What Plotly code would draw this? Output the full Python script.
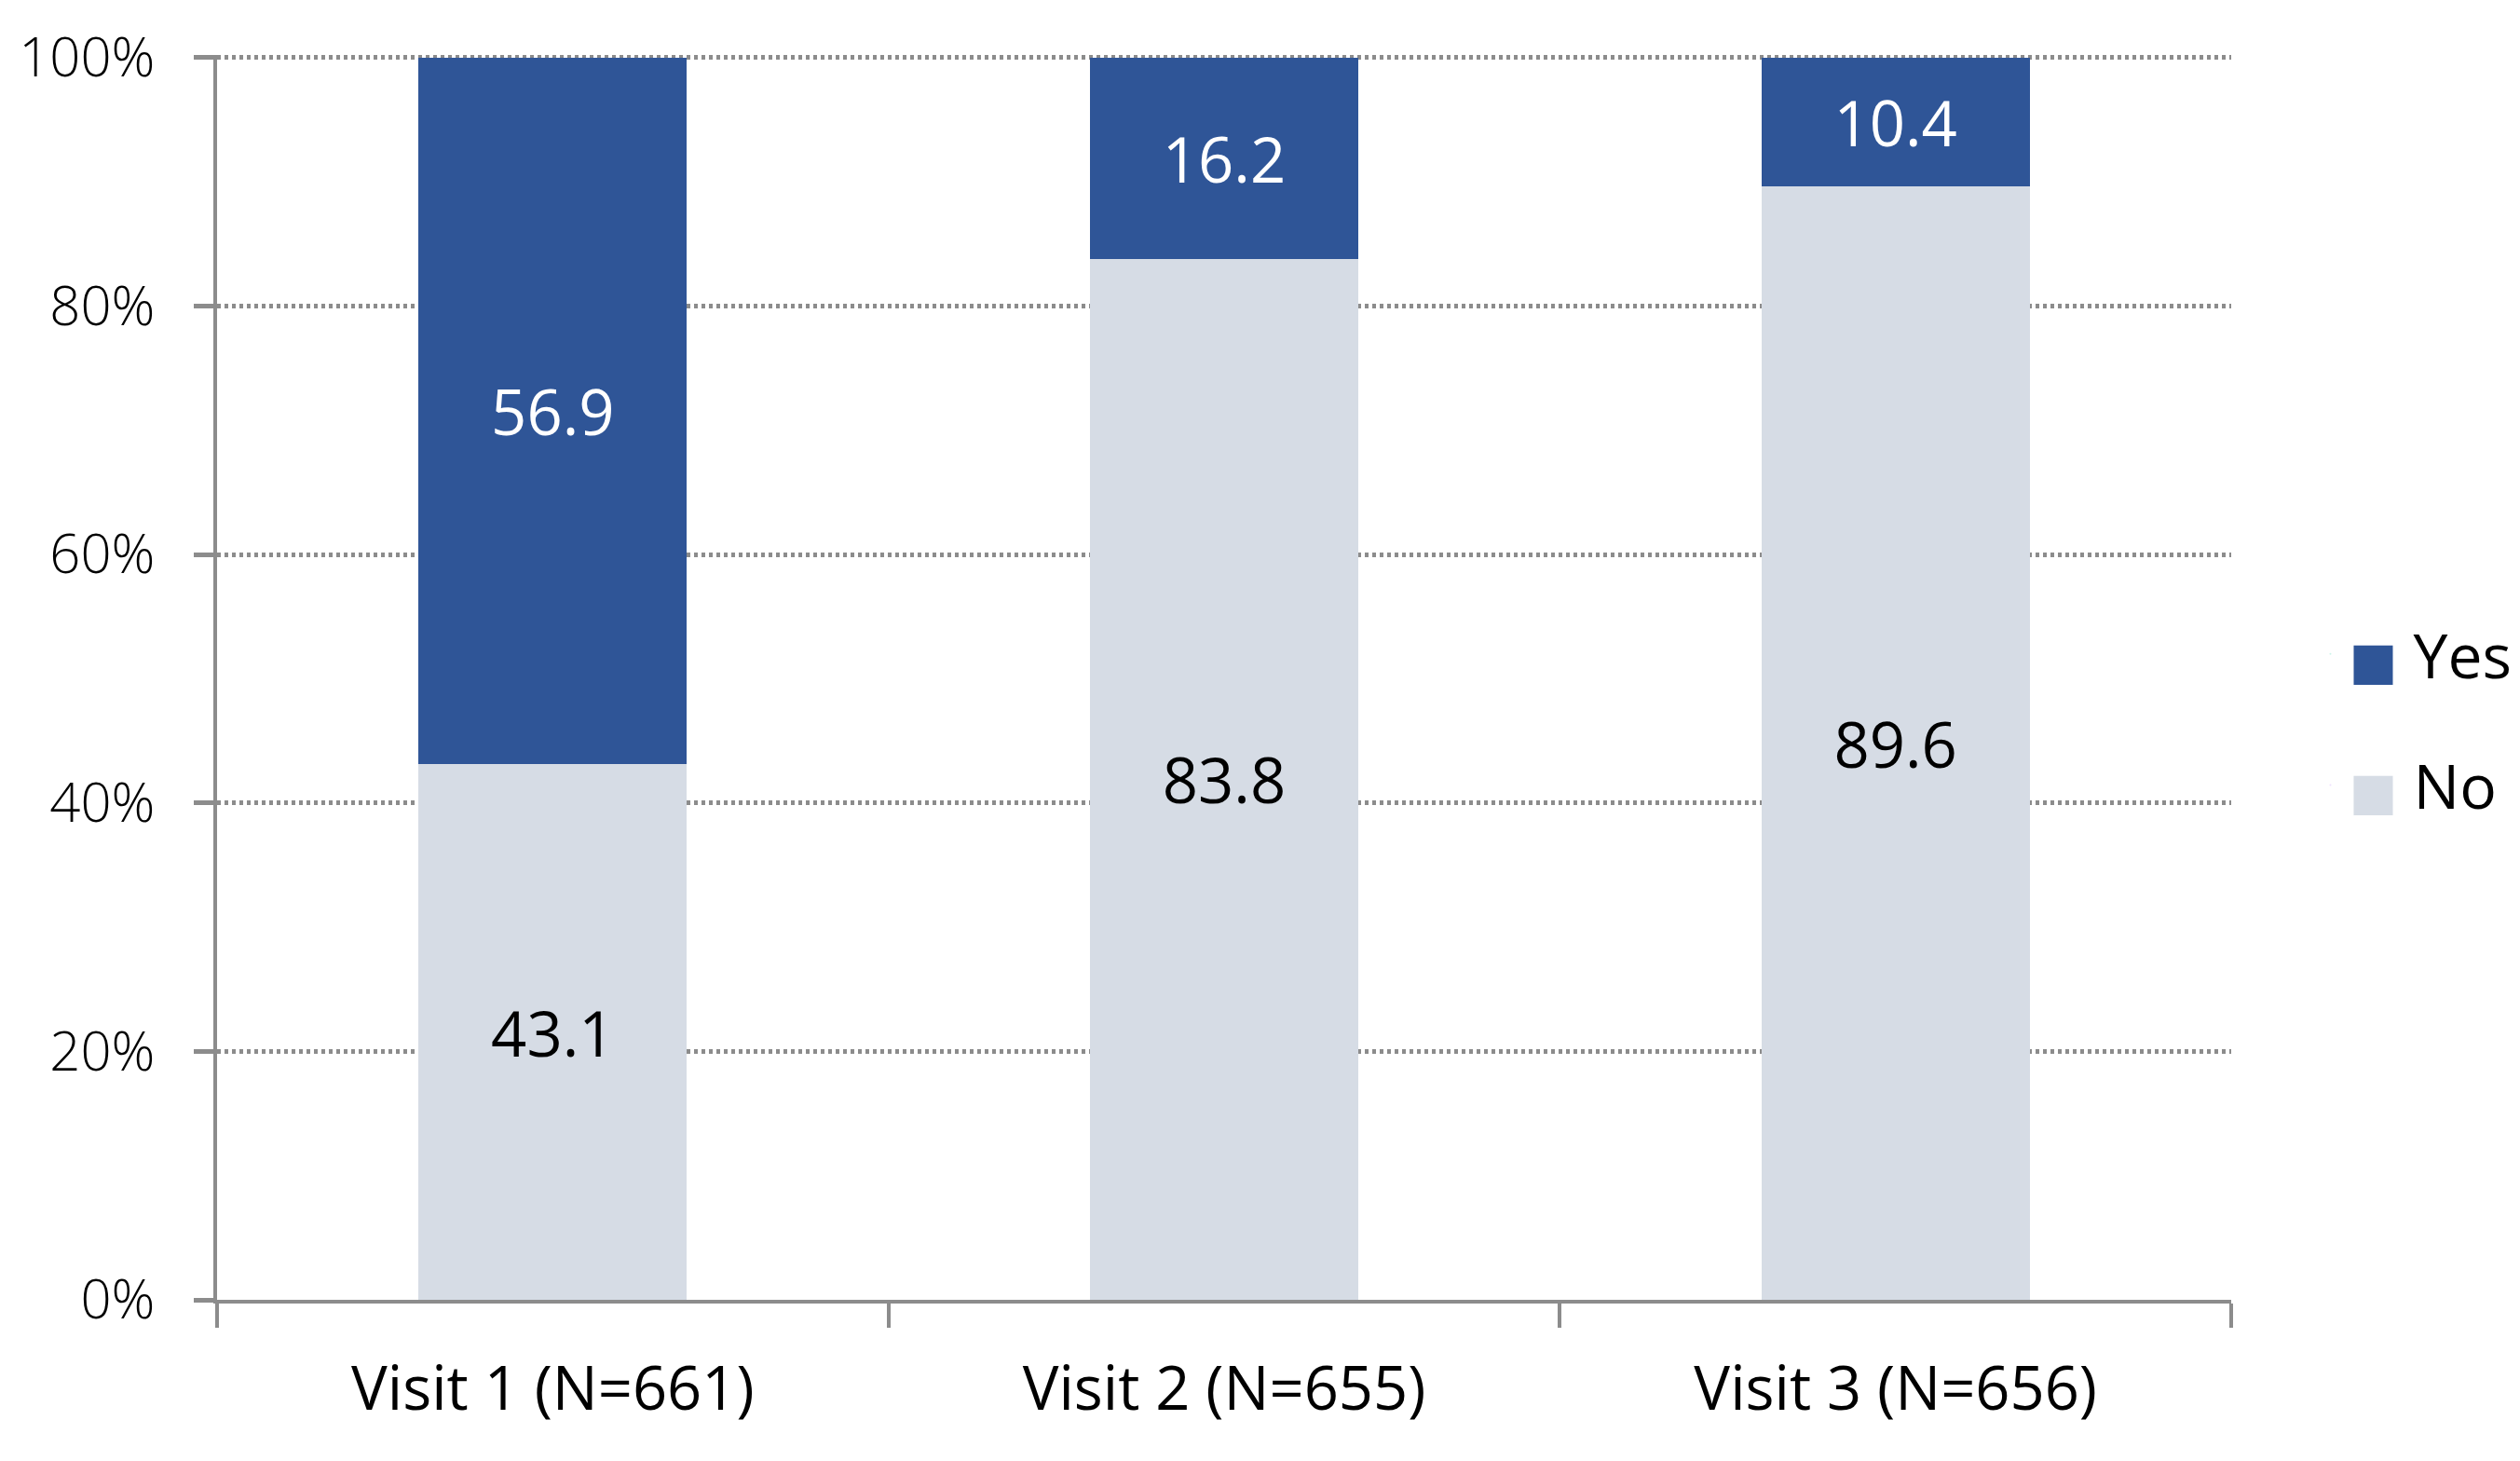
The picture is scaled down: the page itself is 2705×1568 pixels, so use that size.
import plotly.graph_objects as go

categories = ["Visit 1 (N=661)", "Visit 2 (N=655)", "Visit 3 (N=656)"]
no_values = [43.1, 83.8, 89.6]
yes_values = [56.9, 16.2, 10.4]
y_ticks = [0, 20, 40, 60, 80, 100]
y_tick_labels = ["0%", "20%", "40%", "60%", "80%", "100%"]

YES_COLOR = "#2F5597"
NO_COLOR = "#D6DCE5"
AXIS_COLOR = "#8C8C8C"
FONT = "Open Sans"

fig = go.Figure()
fig.add_trace(go.Bar(
    name="No", x=categories, y=no_values, marker=dict(color=NO_COLOR, line=dict(width=0)),
    text=[f"{v:.1f}" for v in no_values], textposition="inside", insidetextanchor="middle",
    textfont=dict(family=FONT, size=67, color="black"), width=0.4, showlegend=False,
))
fig.add_trace(go.Bar(
    name="Yes", x=categories, y=yes_values, marker=dict(color=YES_COLOR, line=dict(width=0)),
    text=[f"{v:.1f}" for v in yes_values], textposition="inside", insidetextanchor="middle",
    textfont=dict(family=FONT, size=67, color="white"), width=0.4, showlegend=False,
))
# legend entries (square swatch drawn as a text glyph so it scales like the reference)
for name, color, grp in [("Yes", YES_COLOR, "yes"), ("No", NO_COLOR, "no")]:
    fig.add_trace(go.Scatter(
        x=[None], y=[None], mode="markers", marker=dict(opacity=0, size=1),
        name=f'<span style="color:{color};font-family:DejaVu Sans;font-size:55px">■</span> {name}',
        legendgroup=grp, showlegend=True, hoverinfo="skip",
    ))

fig.update_layout(
    width=2705, height=1568,
    barmode="stack",
    plot_bgcolor="white", paper_bgcolor="white",
    margin=dict(l=225, r=317, t=42, b=181),
    font=dict(family=FONT, size=56, color="black"),
    legend=dict(
        traceorder="grouped", x=1.04, xanchor="left", y=0.466, yanchor="middle",
        font=dict(family=FONT, size=66, color="black"), tracegroupgap=52,
        bgcolor="rgba(0,0,0,0)", itemwidth=30,
    ),
)
fig.update_xaxes(
    showline=True, linecolor=AXIS_COLOR, linewidth=4,
    ticks="outside", ticklen=26, tickwidth=4, tickcolor=AXIS_COLOR,
    tickson="boundaries", showgrid=False,
    tickfont=dict(family=FONT, size=65, color="black"),
    ticklabelstandoff=36,
)
fig.update_yaxes(
    range=[0, 100.2], tickmode="array", tickvals=y_ticks, ticktext=y_tick_labels,
    showline=True, linecolor=AXIS_COLOR, linewidth=4,
    ticks="outside", ticklen=21, tickwidth=5, tickcolor=AXIS_COLOR,
    showgrid=True, gridcolor=AXIS_COLOR, gridwidth=5, griddash="4px,4px",
    zeroline=False,
    tickfont=dict(family=FONT, size=58, color="black", weight=300),
    ticklabelstandoff=30,
)

fig.write_html("out.html")
